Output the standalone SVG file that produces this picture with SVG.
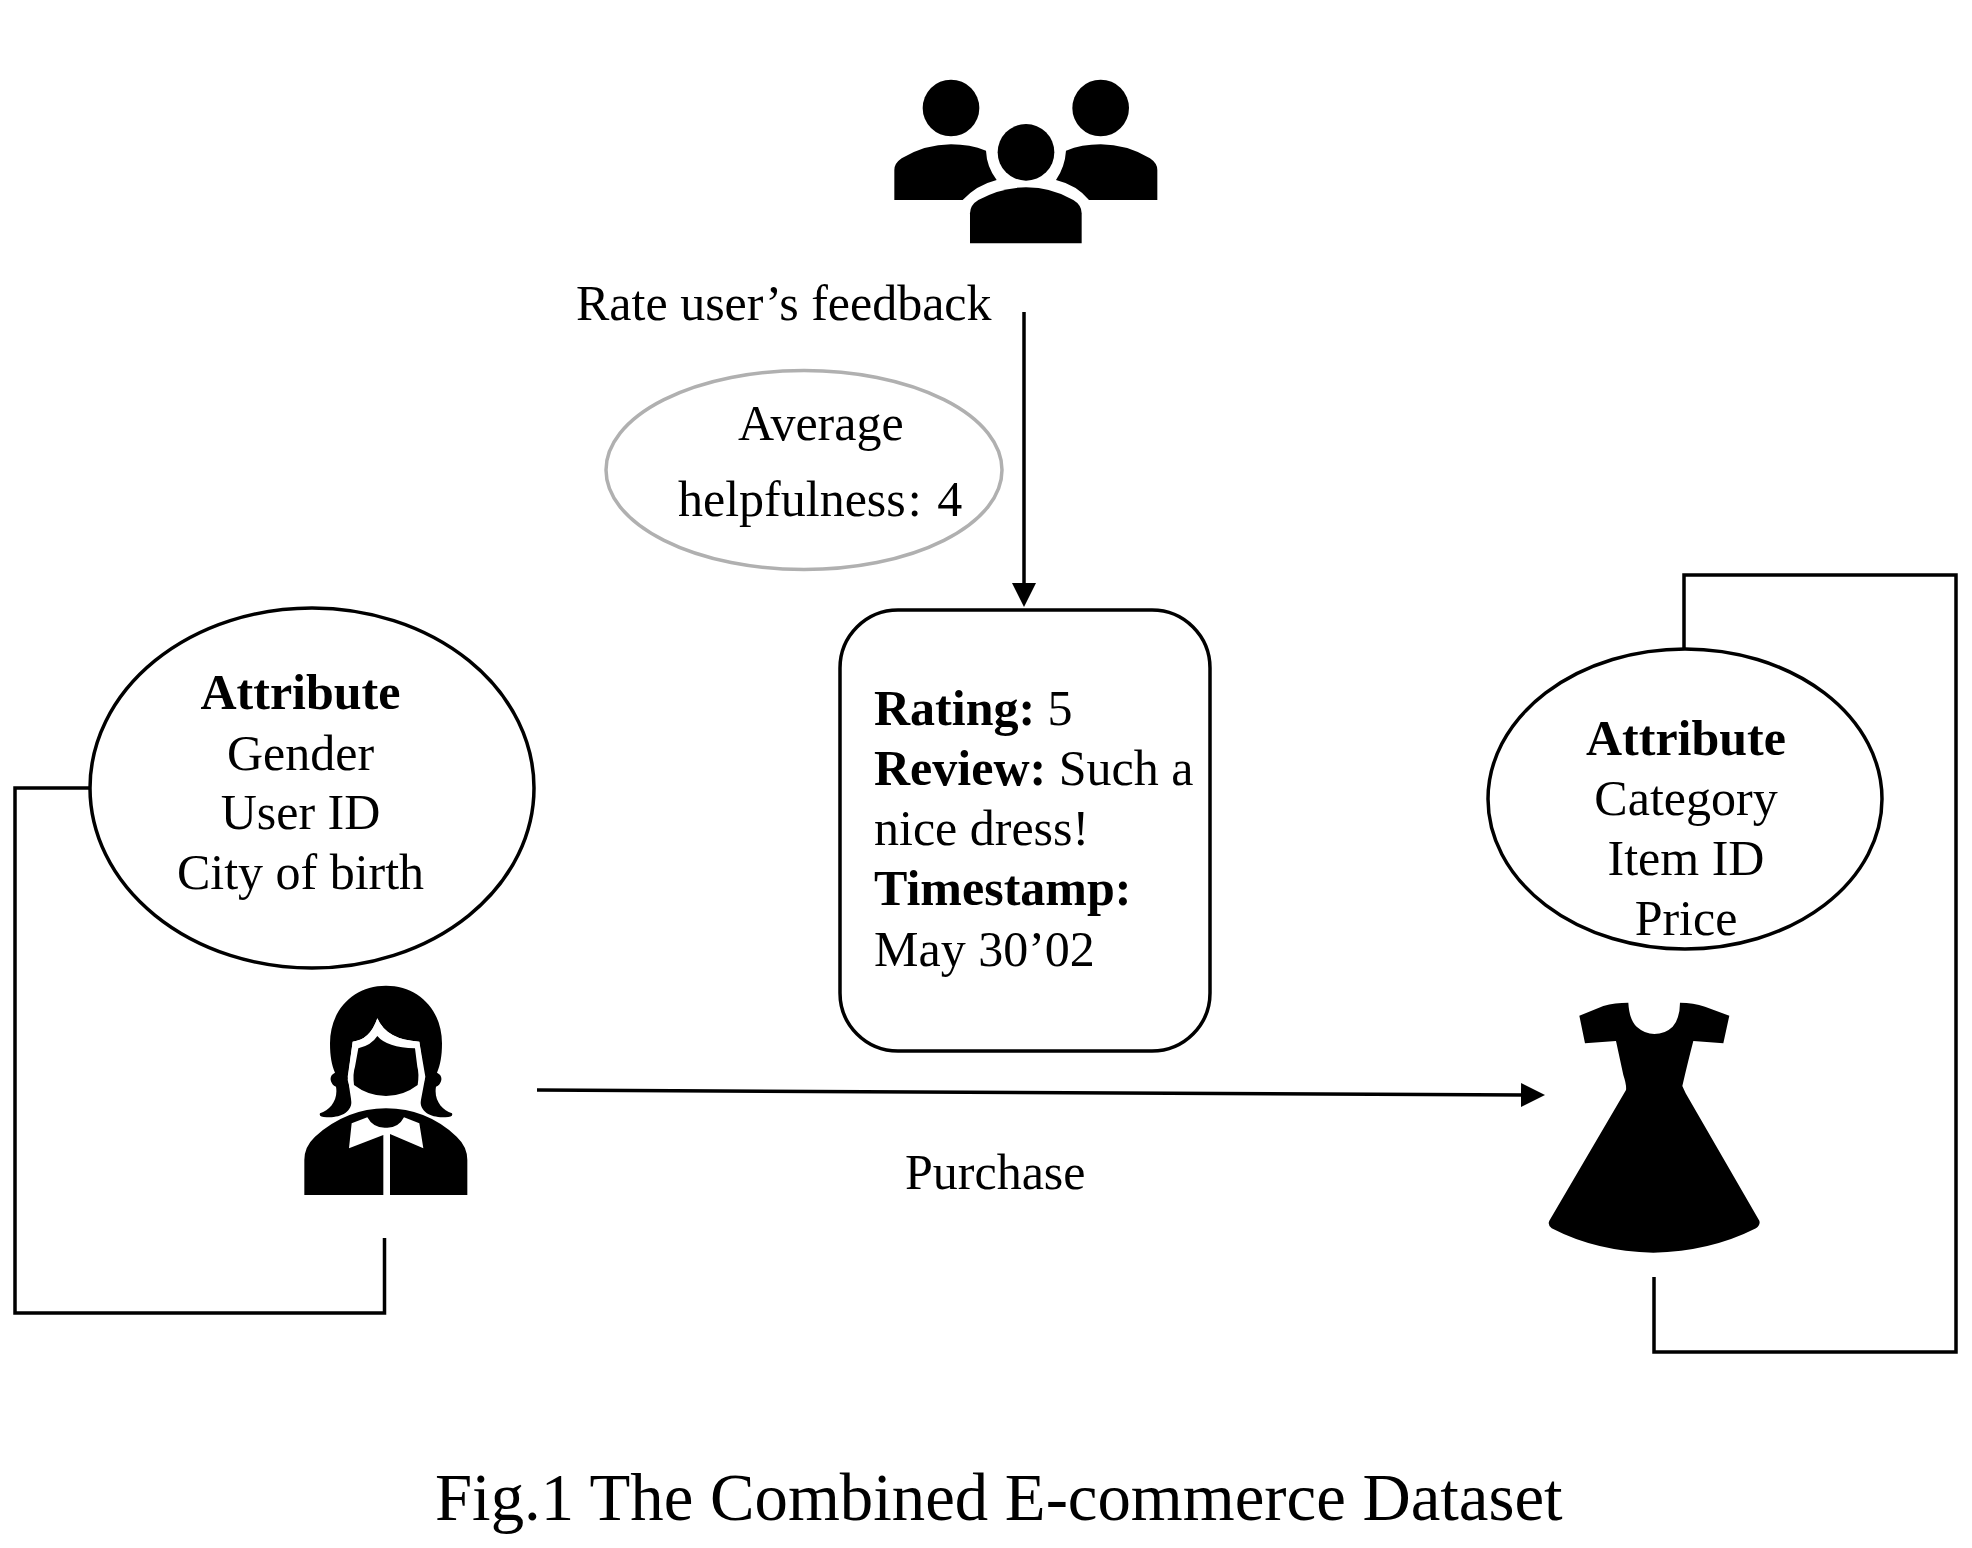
<svg xmlns="http://www.w3.org/2000/svg" width="1972" height="1548" viewBox="0 0 1972 1548">
  <style>
    text { font-family: "Liberation Serif", "Times New Roman", serif; font-size: 50px; fill: #000; }
    .c { text-anchor: middle; }
    .b { font-weight: bold; }
    .title { font-size: 66.75px; }
    .shape { fill: #fff; stroke: #000; stroke-width: 3.5; }
    .grey { stroke: #b0b0b0; }
    .wire { fill: none; stroke: #000; stroke-width: 3.5; }
    .ink { fill: #000; }
    .knock { fill: #fff; }
  </style>
  <defs>
    <marker id="head" markerUnits="userSpaceOnUse" markerWidth="26" markerHeight="26" refX="8" refY="13" orient="auto">
      <path d="M0 1 L24 13 L0 25 Z" fill="#000"/>
    </marker>
  </defs>
  <rect width="1972" height="1548" fill="#fff"/>

  <g id="connectors">
    <path class="wire" marker-end="url(#head)" d="M1024 312 V591"/>
    <path class="wire" marker-end="url(#head)" d="M537 1090 L1529 1095"/>
    <path class="wire" d="M89 788 H15 V1313 H384.500 V1238"/>
    <path class="wire" d="M1684 649 V575 H1956 V1352 H1654 V1277"/>
  </g>

  <g id="reviewers" transform="translate(860 50) scale(.33333)">
    <circle class="ink" cx="273" cy="174" r="85"/>
    <circle class="ink" cx="722" cy="174" r="85"/>
    <circle class="ink" cx="498" cy="307" r="85"/>
    <path class="ink" d="M330 580 V490 Q330 465 355 450 Q425 412 498 412 Q575 412 640 450 Q665 465 665 490 V580 Z"/>
    <path class="ink" d="M103 450 V360 Q103 340 125 325 Q195 283 273 283 Q330 283 378 302 Q380 350 410 390 Q350 405 308 450 Z"/>
    <path class="ink" d="M892 450 V360 Q892 340 870 325 Q800 283 722 283 Q665 283 618 302 Q615 350 588 390 Q650 405 687 450 Z"/>
  </g>

  <g id="rate-label">
    <text x="576" y="320">Rate user’s feedback</text>
  </g>

  <g id="helpfulness">
    <ellipse class="shape grey" cx="804" cy="470" rx="198" ry="99.500"/>
    <text x="738" y="440">Average</text>
    <text x="678" y="516">helpfulness<tspan dx="2">:</tspan><tspan dx="3"> 4</tspan></text>
  </g>

  <g id="review">
    <rect class="shape" x="840" y="610" width="370" height="441" rx="58" ry="58"/>
    <text x="874" y="725"><tspan class="b">Rating:</tspan> 5</text>
    <text x="874" y="785"><tspan class="b">Review:</tspan> Such a</text>
    <text x="874" y="845">nice dress!</text>
    <text x="874" y="905" class="b">Timestamp:</text>
    <text x="874" y="966">May 30’02</text>
  </g>

  <g id="user-attributes">
    <ellipse class="shape" cx="312" cy="788" rx="222" ry="180"/>
    <text class="c b" x="300.500" y="709">Attribute</text>
    <text class="c" x="300.500" y="770">Gender</text>
    <text class="c" x="300.500" y="829">User ID</text>
    <text class="c" x="300.500" y="889">City of birth</text>
  </g>

  <g id="item-attributes">
    <ellipse class="shape" cx="1685" cy="799" rx="197" ry="150"/>
    <text class="c b" x="1686" y="755">Attribute</text>
    <text class="c" x="1686" y="815">Category</text>
    <text class="c" x="1686" y="875">Item ID</text>
    <text class="c" x="1686" y="935">Price</text>
  </g>

  <g id="user" transform="translate(280 960) scale(.33333)">
    <path class="ink" d="M318 77 C220 77 150 150 150 250 C150 290 155 315 165 338 Q150 345 152 360 Q155 375 168 380 C175 420 150 450 120 460 Q115 472 140 472 C180 472 212 460 215 425 Q215 395 203 360 L218 245 Q270 240 292 175 Q320 240 418 245 L433 360 Q421 395 421 425 C424 460 456 472 496 472 Q521 472 516 460 C486 450 461 420 468 380 Q481 375 484 360 Q486 345 471 338 C481 315 486 290 486 250 C486 150 416 77 318 77 Z"/>
    <path class="knock" d="M218 245 Q270 240 292 175 Q320 240 418 245 L436 350 L421 430 L421 470 L215 470 L215 430 L203 350 Z"/>
    <path class="ink" d="M235 265 Q275 255 292 228 Q320 262 405 265 L412 320 Q418 340 413 375 Q370 408 318 408 Q265 408 222 375 Q218 340 225 320 Z"/>
    <path class="ink" d="M73 705 V600 Q73 560 105 530 Q200 445 318 445 Q440 445 530 530 Q562 560 562 600 V705 Z"/>
    <path class="knock" d="M207 565 L215 490 L262 472 Q280 505 318 503 Q355 505 372 472 L418 490 L430 565 L330 522 V705 H310 V525 Z"/>
  </g>

  <g id="purchase-label">
    <text x="905" y="1189">Purchase</text>
  </g>

  <g id="dress" transform="translate(1520 980) scale(.33333)">
    <path class="ink" d="M178 107 L250 78 Q285 68 325 68 Q328 120 350 140 Q375 162 403 162 Q435 162 458 140 Q480 115 480 68 Q520 68 555 80 L628 107 L610 190 L520 183 Q505 240 487 318 L497 340 L718 722 Q722 735 708 745 Q570 815 400 818 Q230 815 95 745 Q82 735 88 722 L318 330 Q320 315 310 285 L288 183 L195 190 Z"/>
  </g>

  <g id="caption">
    <text class="title" x="435" y="1520">Fig.1 The Combined E-commerce Dataset</text>
  </g>
</svg>
